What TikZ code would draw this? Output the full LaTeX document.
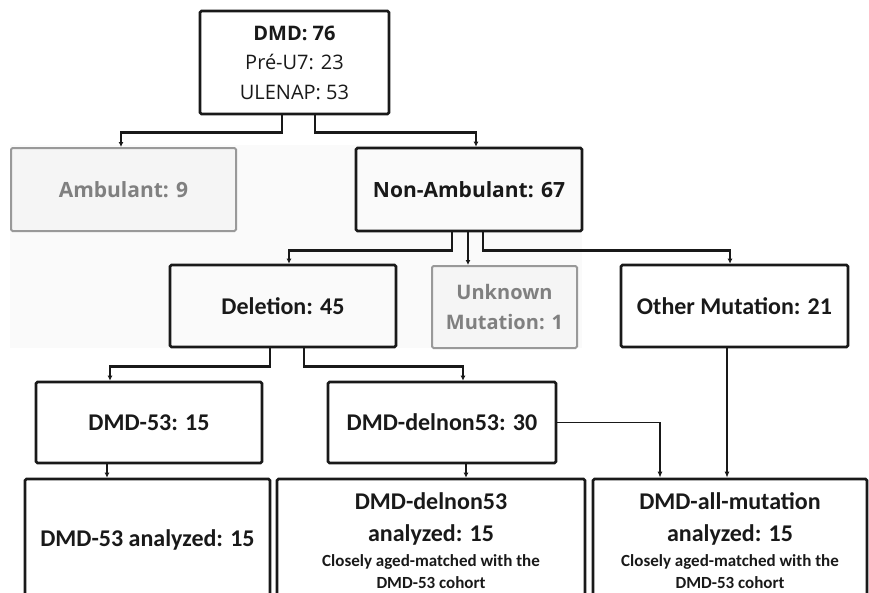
\documentclass[tikz,border=0pt]{standalone}
\usepackage{fontspec}
\setmainfont{Carlito}
\newfontfamily\osans{Open Sans}
\usetikzlibrary{arrows.meta}

\begin{document}
\begin{tikzpicture}[x=1pt, y=-1pt,
    box/.style={draw=black!90, line width=2.6pt, rounded corners=1.5pt, inner sep=0pt, align=center,
        text=black!90, font=\bfseries\fontsize{24}{32}\selectfont},
    greybox/.style={box, draw=black!40, line width=2pt, fill=black!4, text=black!50},
    link/.style={draw=black!90, line width=2.6pt, -{Latex[length=5pt,width=5pt]}},
    thinlink/.style={draw=black!90, line width=1.2pt, -{Latex[length=6pt,width=5pt]}}]
    \newcommand\smalltxt{\fontsize{17}{25}\selectfont}
    % Fix the page size
    \useasboundingbox (0,0) rectangle (869,592);
    % Faint backdrop behind the upper part
    \fill[black!2] (10,145) rectangle (582,348);

    % Cohort at the top
    \node[box, minimum width=189, minimum height=103, font=\osans\fontsize{20}{29.5}\selectfont] (root) at (294.5,62.5)
        {\textbf{DMD: 76}\\Pré-U7: 23\\ULENAP: 53};
    % Ambulatory status
    \node[greybox, minimum width=225, minimum height=83, font=\osans\bfseries\fontsize{21}{24}\selectfont] (amb) at (123.5,189.5) {Ambulant: 9};
    \node[box, minimum width=226, minimum height=83, font=\osans\bfseries\fontsize{21}{24}\selectfont] (nonamb) at (469,189.5) {Non-Ambulant: 67};
    % Mutation type
    \node[box, minimum width=226, minimum height=82] (del) at (283,306) {Deletion: 45};
    \node[greybox, minimum width=145, minimum height=82, font=\osans\bfseries\fontsize{20}{30}\selectfont] (unk) at (504.5,307) {Unknown\\Mutation: 1};
    \node[box, minimum width=227, minimum height=82] (other) at (734.5,306) {Other Mutation: 21};
    % Deletion subgroups
    \node[box, minimum width=226, minimum height=81] (d53) at (149,422.5) {DMD-53: 15};
    \node[box, minimum width=228, minimum height=81] (dnon) at (442,422.5) {DMD-delnon53: 30};
    % Analyzed groups (cut off at the bottom)
    \node[box, minimum width=245, minimum height=121] (a53) at (147.5,539.5) {DMD-53 analyzed: 15};
    \node[box, minimum width=308, minimum height=121] (anon) at (431,539.5)
        {\rule{0pt}{20pt}DMD-delnon53\\analyzed: 15\\[-7pt]\smalltxt Closely aged-matched with the\\[-10pt]\smalltxt DMD-53 cohort};
    \node[box, minimum width=274, minimum height=121] (aall) at (730,539.5)
        {\rule{0pt}{20pt}DMD-all-mutation\\analyzed: 15\\[-7pt]\smalltxt Closely aged-matched with the\\[-10pt]\smalltxt DMD-53 cohort};

    % Connectors
    \draw[link] ([xshift=-12.5]root.south) -- ++(0,17) -| ([xshift=-2.5]amb.north);
    \draw[link] ([xshift=20.5]root.south) -- ++(0,17) -| ([xshift=7]nonamb.north);
    \draw[link] ([xshift=-17]nonamb.south) -- ++(0,18) -| ([xshift=6]del.north);
    \draw[link] ([xshift=-1]nonamb.south) -- ([xshift=-1]nonamb.south |- unk.north);
    \draw[link] ([xshift=14]nonamb.south) -- ++(0,18) -| ([xshift=-4.5]other.north);
    \draw[link] ([xshift=-13]del.south) -- ++(0,18) -| ([xshift=-39]d53.north);
    \draw[link] ([xshift=21]del.south) -- ++(0,18) -| ([xshift=21]dnon.north);
    \draw[link] ([xshift=-42]d53.south) -- ([xshift=-42]d53.south |- a53.north);
    \draw[link] ([xshift=24]dnon.south) -- ([xshift=24]dnon.south |- anon.north);
    \draw[thinlink] (dnon.east) -| ([xshift=-70]aall.north);
    \draw[thinlink] ([xshift=-7.5]other.south) -- ([xshift=-7.5]other.south |- aall.north);
\end{tikzpicture}
\end{document}
